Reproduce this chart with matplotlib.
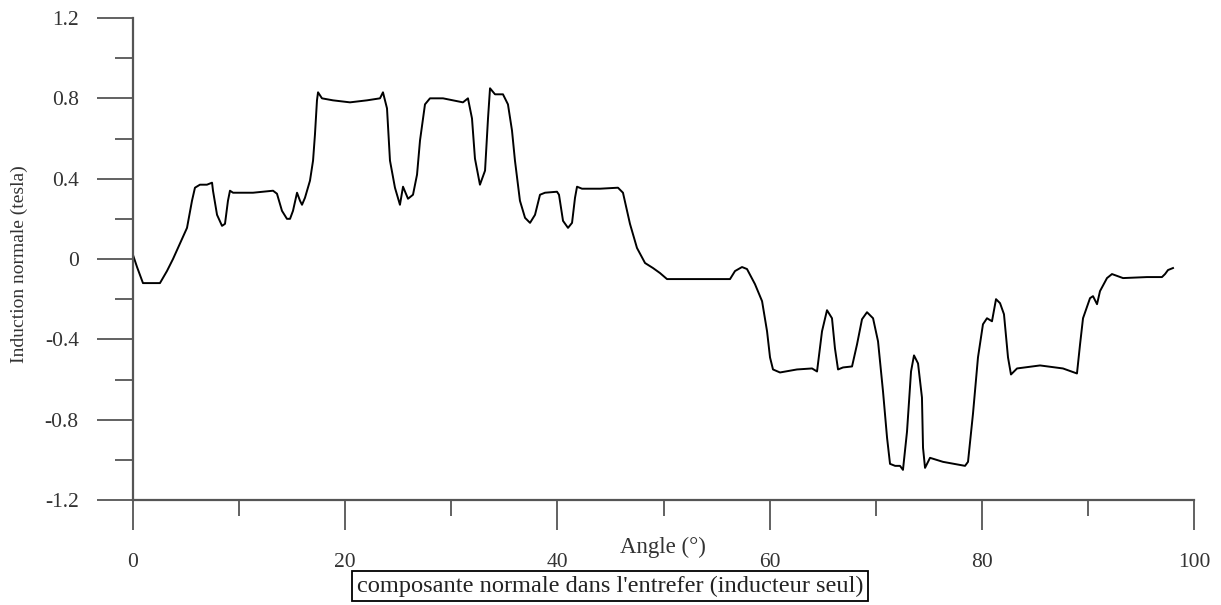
import matplotlib
matplotlib.use("Agg")
import matplotlib.pyplot as plt
from matplotlib.ticker import MultipleLocator

angle = [0.0, 0.38, 0.94, 2.54, 3.20, 3.77, 4.62, 5.09, 5.56, 5.84, 6.31, 6.97, 7.45, 7.54,
         7.92, 8.39, 8.67, 8.95, 9.14, 9.43, 11.31, 13.20, 13.57, 14.04, 14.51, 14.80, 15.08,
         15.46, 15.74, 15.93, 16.21, 16.68, 16.97, 17.15, 17.34, 17.44, 17.81, 18.85, 20.45,
         22.05, 23.28, 23.56, 23.94, 24.22, 24.69, 25.16, 25.45, 25.92, 26.39, 26.77, 27.05,
         27.52, 27.99, 29.22, 31.10, 31.57, 31.95, 32.23, 32.70, 33.18, 33.46, 33.65, 34.12,
         34.87, 35.34, 35.72, 36.00, 36.47, 36.95, 37.42, 37.89, 38.36, 38.83, 39.96, 40.15,
         40.53, 41.00, 41.38, 41.66, 41.85, 42.32, 44.02, 45.71, 46.18, 46.84, 47.50, 48.26,
         49.01, 49.67, 50.33, 53.44, 56.27, 56.74, 57.40, 57.87, 58.62, 59.29, 59.76, 60.04,
         60.32, 60.98, 62.58, 64.00, 64.47, 64.94, 65.41, 65.88, 66.16, 66.45, 66.92, 67.77,
         68.24, 68.71, 69.18, 69.75, 70.22, 70.69, 71.07, 71.35, 71.83, 72.29, 72.57, 72.95,
         73.33, 73.61, 73.99, 74.36, 74.46, 74.65, 75.12, 76.34, 78.42, 78.70, 79.17, 79.64,
         80.11, 80.49, 80.96, 81.34, 81.72, 82.09, 82.47, 82.75, 83.32, 85.49, 87.65, 88.97,
         89.26, 89.54, 90.20, 90.48, 90.86, 91.14, 91.80, 92.27, 93.31, 95.57, 96.98, 97.27,
         97.55, 98.02]
induction = [0.02, -0.04, -0.12, -0.12, -0.06, 0.0, 0.10, 0.155, 0.29, 0.355, 0.37, 0.37, 0.38, 0.34,
             0.22, 0.165, 0.175, 0.29, 0.34, 0.33, 0.33, 0.34, 0.325, 0.24, 0.20, 0.20, 0.24,
             0.33, 0.29, 0.27, 0.305, 0.39, 0.49, 0.62, 0.79, 0.83, 0.80, 0.79, 0.78,
             0.79, 0.80, 0.83, 0.75, 0.49, 0.355, 0.27, 0.36, 0.30, 0.32, 0.42, 0.59,
             0.77, 0.80, 0.80, 0.78, 0.80, 0.70, 0.50, 0.37, 0.44, 0.70, 0.85, 0.82,
             0.82, 0.77, 0.64, 0.49, 0.29, 0.205, 0.18, 0.22, 0.32, 0.33, 0.335, 0.32,
             0.19, 0.155, 0.18, 0.305, 0.36, 0.35, 0.35, 0.355, 0.33, 0.175, 0.055, -0.02,
             -0.045, -0.07, -0.10, -0.10, -0.10, -0.06, -0.04, -0.05, -0.125, -0.21, -0.36, -0.49,
             -0.55, -0.565, -0.55, -0.545, -0.56, -0.36, -0.255, -0.295, -0.445, -0.55, -0.54, -0.535,
             -0.425, -0.30, -0.265, -0.295, -0.41, -0.66, -0.89, -1.02, -1.03, -1.03, -1.05, -0.86,
             -0.56, -0.48, -0.52, -0.69, -0.94, -1.04, -0.99, -1.01, -1.03, -1.01, -0.77, -0.49,
             -0.325, -0.295, -0.31, -0.20, -0.22, -0.275, -0.49, -0.575, -0.545, -0.53, -0.545, -0.57,
             -0.425, -0.295, -0.195, -0.185, -0.225, -0.16, -0.095, -0.075, -0.095, -0.09, -0.09, -0.075,
             -0.055, -0.045]

x_ticks = [0, 20, 40, 60, 80, 100]
y_ticks = [-1.2, -0.8, -0.4, 0, 0.4, 0.8, 1.2]
y_tick_labels = ["-1.2", "-0.8", "-0.4", "0", "0.4", "0.8", "1.2"]
x_label = "Angle (°)"
y_label = "Induction normale (tesla)"
caption = "composante normale dans l'entrefer (inducteur seul)"

plt.rcParams['font.family'] = ['Liberation Serif', 'DejaVu Serif']

W, H = 1221, 605
fig = plt.figure(figsize=(W / 100, H / 100), dpi=100)
ax = fig.add_axes([133 / W, 1 - 500 / H, (1194 - 133) / W, (500 - 18) / H])

ax.plot(angle, induction, color='black', lw=1.4, solid_joinstyle='round')
ax.set_xlim(0, 100)
ax.set_ylim(-1.2, 1.2)

for s in ['top', 'right']:
    ax.spines[s].set_visible(False)
spine_col = '#555555'
for s in ['left', 'bottom']:
    ax.spines[s].set_color(spine_col)
    ax.spines[s].set_linewidth(1.6)

ax.set_xticks(x_ticks)
ax.set_xticklabels([str(v) for v in x_ticks])
ax.set_yticks(y_ticks)
ax.set_yticklabels(y_tick_labels)
ax.xaxis.set_minor_locator(MultipleLocator(10))
ax.yaxis.set_minor_locator(MultipleLocator(0.2))

ax.tick_params(axis='y', which='major', length=26, width=1.3, color=spine_col, pad=13, labelsize=15.5)
ax.tick_params(axis='y', which='minor', length=13, width=1.3, color=spine_col)
ax.tick_params(axis='x', which='major', length=21.5, width=1.3, color=spine_col, pad=16.5, labelsize=15.5)
ax.tick_params(axis='x', which='minor', length=11.5, width=1.3, color=spine_col)
for lbl in ax.get_xticklabels() + ax.get_yticklabels():
    lbl.set_color('#333333')

fig.text(663 / W, 1 - 547 / H, x_label, ha='center', va='center', fontsize=16.5, color='#333333')
fig.text(19 / W, 1 - 264 / H, y_label, ha='center', va='center', rotation=90, fontsize=14, color='#333333')
fig.text(610 / W, 1 - 586 / H, caption, ha='center', va='center', fontsize=17.6, color='#222222',
         bbox=dict(boxstyle='square,pad=0.2', facecolor='white', edgecolor='black', linewidth=1.3))

fig.savefig('out.png', dpi=100, facecolor='white')
